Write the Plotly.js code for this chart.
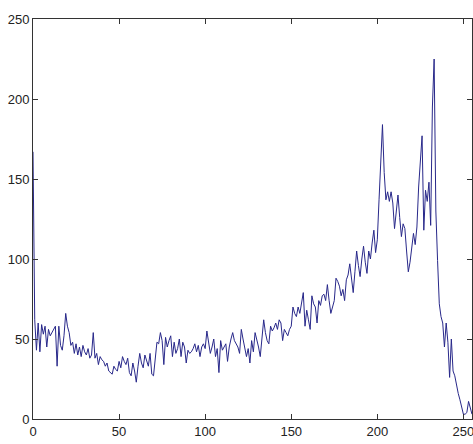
<!DOCTYPE html>
<html>
<head>
<meta charset="utf-8">
<script src="https://cdn.plot.ly/plotly-3.0.1.min.js"></script>
<style>html,body{margin:0;padding:0;background:#fff;}#chart{width:473px;height:444px;}</style>
</head>
<body>
<div id="chart"></div>
<script>
// Histogram counts for intensity levels 0..255
const counts = [
167,62,43,60,42,59,53,58,45,56, 52,54,56,58,33,58,46,43,52,66,
58,54,46,48,41,47,40,45,39,46, 42,40,44,38,40,54,38,41,34,39,
37,36,33,35,30,29,28,33,31,30, 36,32,39,36,34,38,29,27,35,30,
23,33,41,35,32,40,37,33,41,28, 27,39,48,47,54,49,34,51,45,49,
52,39,48,41,44,50,39,48,45,35, 43,41,42,44,47,42,46,39,45,47,
44,55,48,41,45,50,39,44,29,49, 43,45,47,36,45,50,54,49,47,45,
41,56,50,45,39,44,35,49,42,54, 50,45,39,53,62,54,49,47,58,55,
57,60,56,62,60,49,56,54,52,56, 58,70,66,64,70,66,72,79,58,68,
62,56,77,72,70,60,74,71,77,78, 74,84,74,66,70,74,88,86,83,77,
81,74,87,90,97,88,79,92,105,96, 89,100,108,98,91,105,100,110,118,104,
112,137,165,184,154,137,142,136,142,135, 119,128,140,126,114,122,119,105,92,98,
106,116,109,120,145,160,177,118,143,136, 148,121,195,225,130,99,72,64,60,45,
60,48,26,50,30,27,20,16,12,7, 3,3,4,11,6,3
];
const levels = counts.map((_, i) => i);
const xTicks = [0, 50, 100, 150, 200, 250];
const yTicks = [0, 50, 100, 150, 200, 250];

const axisFont = {family: '"Liberation Sans Narrow", "Liberation Sans", Arial, sans-serif', size: 13, color: '#222'};
const axisCommon = {
  showgrid: false, zeroline: false,
  showline: true, linecolor: '#333', linewidth: 1, mirror: 'ticks',
  ticks: 'inside', ticklen: 5, tickcolor: '#333', tickwidth: 1,
  tickfont: axisFont, ticklabeloverflow: 'allow'
};

Plotly.newPlot('chart', [{
  x: levels, y: counts, type: 'scatter', mode: 'lines',
  line: {color: '#28288a', width: 1}, hoverinfo: 'skip'
}], {
  width: 473, height: 444,
  margin: {l: 33, r: 1, t: 19, b: 25},
  paper_bgcolor: '#fff', plot_bgcolor: '#fff',
  showlegend: false,
  xaxis: Object.assign({}, axisCommon, {range: [0, 255], tickvals: xTicks, ticktext: xTicks.map(String)}),
  yaxis: Object.assign({}, axisCommon, {range: [0, 250], tickvals: yTicks, ticktext: yTicks.map(String)})
}, {staticPlot: true, displayModeBar: false});
</script>
</body>
</html>
